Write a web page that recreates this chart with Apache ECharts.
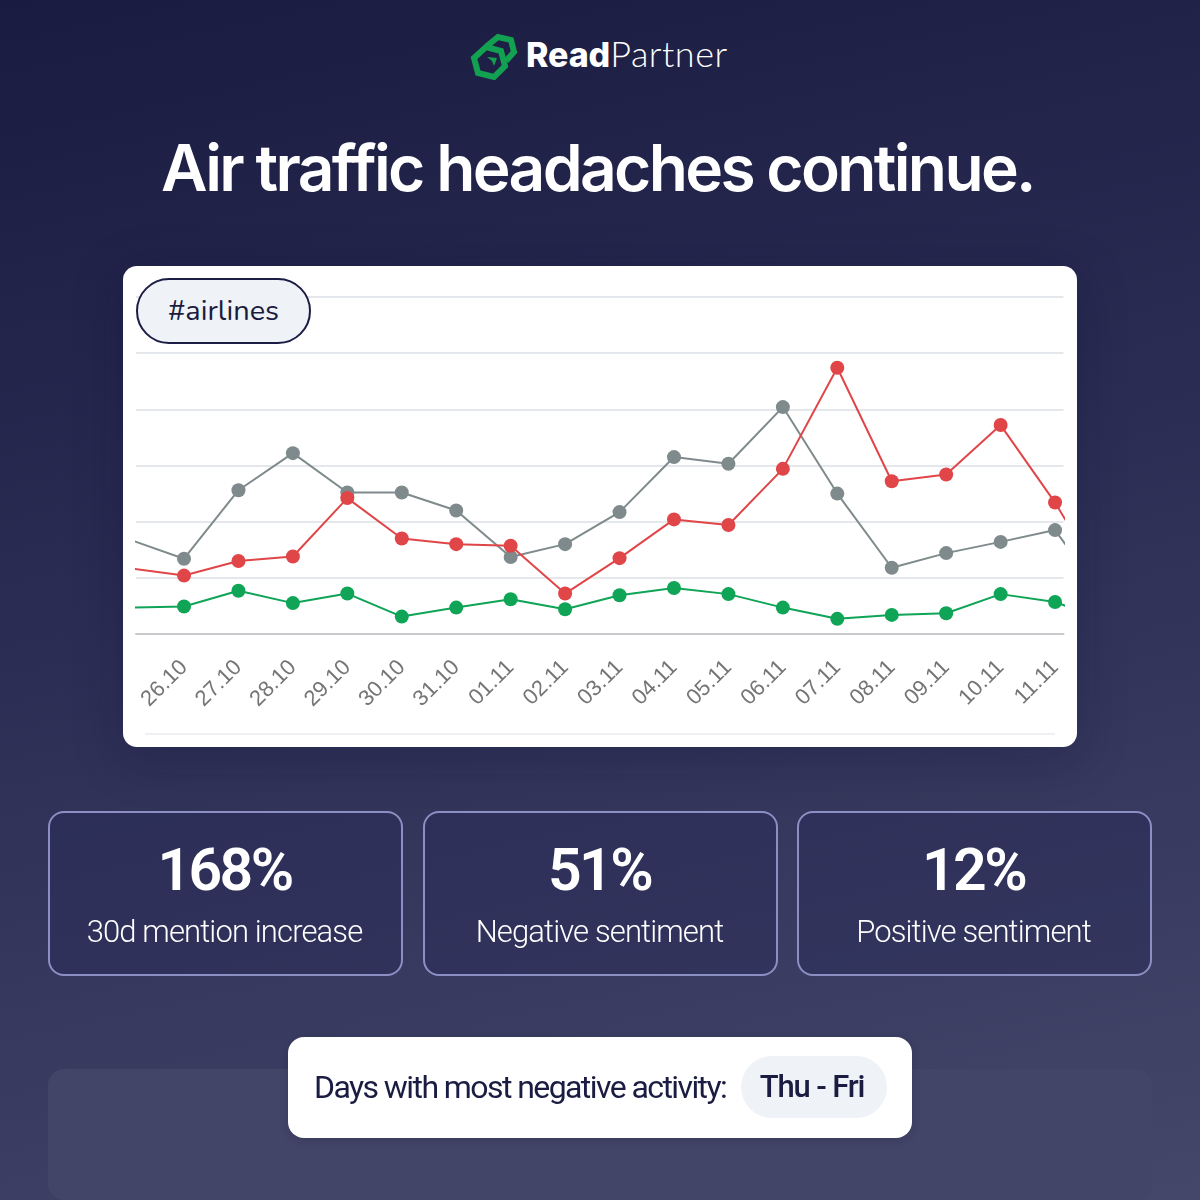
<!DOCTYPE html>
<html>
<head>
<meta charset="utf-8">
<script src="https://cdn.jsdelivr.net/npm/echarts@6/dist/echarts.min.js"></script>
<style>
html,body{margin:0;padding:0;width:1200px;height:1200px;overflow:hidden}
body{position:relative;background:linear-gradient(168deg,#191b41 0%,#2b2d54 45%,#44466a 100%);font-family:Inter,sans-serif;color:#fff}
.abs{position:absolute}
.center{text-align:center;white-space:nowrap}
#logo{left:470px;top:33px;width:50px;height:48px}
#brand{left:526px;top:28px;font-size:34px;line-height:50px;white-space:nowrap}
#brand b{font-weight:800;font-family:Inter,sans-serif;font-size:34px;letter-spacing:-.1px}
#brand span{font-family:Lato,sans-serif;font-weight:300;font-size:36px;letter-spacing:.5px}
#title{left:0;width:1195px;top:128px;font-size:64px;line-height:80px;font-weight:600;letter-spacing:-2.65px}
#card{left:123px;top:266px;width:954px;height:481px;background:#fff;border-radius:14px;box-shadow:0 10px 50px rgba(15,16,50,.28)}
#chart{left:0;top:0;width:1200px;height:1200px}
#pill{left:136px;top:278px;width:171px;height:62px;border:2px solid #1b1d45;border-radius:33px;background:#eff2f6;color:#1a1c3e;font-family:Nunito,"Noto Sans",sans-serif;font-size:29px;line-height:61px;text-align:center}
#rule{left:145px;top:733px;width:910px;height:2px;background:#eef0f3}
.stat{top:811px;width:351px;height:161px;border:2px solid #8c8fc4;border-radius:16px;background:rgba(40,42,86,.45)}
.num{left:-2px;right:0;top:24px;font-family:Roboto,sans-serif;font-size:59px;line-height:66px;font-weight:600;letter-spacing:-2.6px}
.lab{left:-2px;right:0;top:99px;font-family:Roboto,sans-serif;font-size:31px;line-height:40px;font-weight:300;letter-spacing:-.88px}
#strip{left:48px;top:1069px;width:1104px;height:131px;border-radius:16px;background:#434568}
#bar{left:288px;top:1037px;width:624px;height:101px;border-radius:16px;background:#fff;box-shadow:0 2px 8px rgba(20,20,50,.2)}
#barText{left:26px;top:29px;font-family:Roboto,sans-serif;font-size:32px;line-height:42px;color:#1a1c42;letter-spacing:-1.58px;white-space:nowrap;font-weight:400}
#chip{left:453px;top:19px;width:146px;height:62px;border-radius:31px;background:#eff2f6;color:#1a1c42;font-family:Roboto,sans-serif;font-size:31px;line-height:62px;font-weight:500;letter-spacing:-1.17px;text-align:center;text-indent:-4px}
</style>
</head>
<body>
<svg id="logo" class="abs" viewBox="0 0 50 48">
  <g fill="none" stroke="#12a150" stroke-width="6" stroke-linejoin="miter">
    <path d="M17 13 L28 4 L41 7 L44 19 L36 28"/>
    <path d="M16 14 L31 18 L35 33 L24 44 L8 40 L4 25 Z"/>
  </g>
  <path d="M17 24 L27 25 L24 33 L22 28 Z" fill="#12a150"/>
</svg>
<div id="brand" class="abs"><b>Read</b><span>Partner</span></div>
<div id="title" class="abs center">Air traffic headaches continue.</div>
<div id="card" class="abs"></div>
<div id="rule" class="abs"></div>
<div id="strip" class="abs"></div>
<div id="chart" class="abs"></div>
<div id="pill" class="abs">#airlines</div>
<div class="abs stat" style="left:48px"><div class="abs center num">168%</div><div class="abs center lab">30d mention increase</div></div>
<div class="abs stat" style="left:423px"><div class="abs center num">51%</div><div class="abs center lab">Negative sentiment</div></div>
<div class="abs stat" style="left:797px"><div class="abs center num">12%</div><div class="abs center lab">Positive sentiment</div></div>
<div id="bar" class="abs"><div id="barText" class="abs">Days with most negative activity:</div><div id="chip" class="abs">Thu - Fri</div></div>
<script>
// The first and last entries run off the clipped plot edges.
const categories = ['25.10','26.10','27.10','28.10','29.10','30.10','31.10','01.11','02.11','03.11','04.11','05.11','06.11','07.11','08.11','09.11','10.11','11.11','12.11'];
const mentions = [168,134,256,322,252,252,220,137,160,217,315,303,404,250,118,144,164,185,52];
const negative = [117,104,130,138,242,170,160,157,72,135,204,194,294,474,272,284,372,234,73];
const positive = [47,49,77,55,72,31,47,62,44,69,82,71,47,27,34,37,71,57,21];

const pairs = arr => arr.map((v, i) => [i - 1, v]);
const line = (name, data, color) => ({
  name, type: 'line', data: pairs(data), clip: true, silent: true,
  symbol: 'circle', symbolSize: 14, showSymbol: true, showAllSymbol: true,
  lineStyle: {color, width: 2}, itemStyle: {color}, animation: false
});
const labelTicks = categories.map((c, i) => i - 1).filter(i => i >= 0 && i <= 16);
const chart = echarts.init(document.getElementById('chart'), null, {renderer: 'canvas'});
chart.setOption({
  animation: false,
  backgroundColor: 'transparent',
  grid: {left: 136, right: 136.5, top: 297, bottom: 566},
  xAxis: {
    type: 'value', min: -0.882, max: 16.155,
    axisLine: {show: true, onZero: false, lineStyle: {color: '#c8c9cc', width: 2}},
    axisTick: {show: false}, splitLine: {show: false},
    axisLabel: {
      show: true, rotate: 45, margin: 30, color: '#757575', fontSize: 22,
      fontFamily: 'Liberation Sans', hideOverlap: false, customValues: labelTicks,
      formatter: v => categories[Math.round(v) + 1]
    }
  },
  yAxis: {
    type: 'value', min: 0, max: 600, interval: 100,
    axisLine: {show: false}, axisTick: {show: false}, axisLabel: {show: false},
    splitLine: {show: true, lineStyle: {color: '#e4e7ec', width: 2}}
  },
  series: [
    line('Mentions', mentions, '#7f8a8c'),
    line('Negative', negative, '#e04548'),
    line('Positive', positive, '#0fa456')
  ]
});
</script>
</body>
</html>
